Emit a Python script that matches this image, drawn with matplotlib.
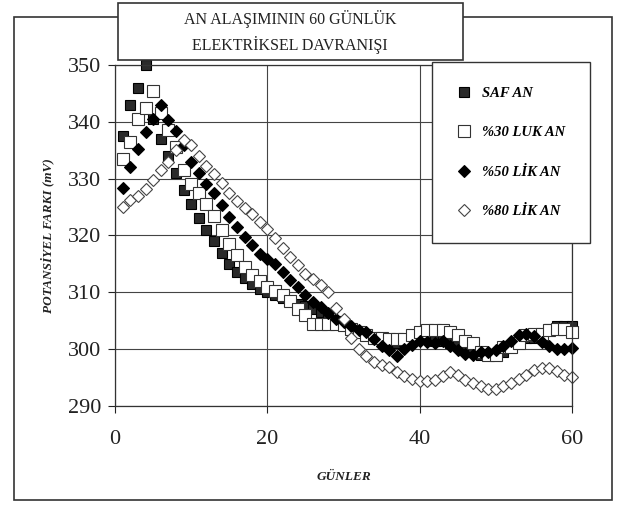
import matplotlib
matplotlib.use("Agg")
import matplotlib.pyplot as plt
from matplotlib.patches import Rectangle

plt.rcParams['font.family'] = ['Liberation Serif', 'DejaVu Serif']

# days 1..60, values (mV)
gunler = list(range(1, 61))

saf_an = [337.5, 343, 346, 350, 340.5, 337, 334, 331, 328, 325.5,
          323, 321, 319, 317, 315, 313.5, 312.5, 311.5, 310.5, 310,
          309.5, 309, 308.5, 308, 307.5, 307, 306.5, 306, 305, 304.5,
          303.5, 303, 302.5, 302, 301.5, 301, 301, 301.5, 302, 302,
          302, 301.5, 301.5, 301, 300.5, 300, 299.5, 299, 299, 299,
          299.5, 300.5, 301, 302, 302, 302.5, 303.5, 304, 304, 304]

yuzde30 = [333.5, 336.5, 340.5, 342.5, 345.5, 341.5, 338.5, 335.5, 331.5, 329,
           327.5, 325.5, 323.5, 321, 318.5, 316.5, 314.5, 313, 312, 311,
           310.3, 309.5, 308.5, 307, 306, 304.5, 304.5, 304.5, 304.5, 304.3,
           303.5, 303, 302.5, 302, 302, 301.8, 301.8, 301.8, 302.5, 303,
           303.3, 303.3, 303.3, 303, 302.5, 301.5, 301, 299.5, 299, 299,
           300.3, 300.3, 301, 302.5, 302.7, 302.7, 303.3, 303.5, 303.5, 303]

yuzde50 = [328.3, 332, 335.3, 338.2, 340.5, 343, 340.3, 338.3, 336, 333,
           331, 329.1, 327.4, 325.3, 323.3, 321.5, 319.8, 318.3, 316.8, 315.9,
           315, 313.5, 312.2, 311, 309.5, 308.3, 307.4, 306.3, 305.3, 304.7,
           304, 303.4, 303, 301.8, 300.5, 299.8, 298.8, 300, 300.8, 301.5,
           301.2, 301, 301.5, 300.5, 299.8, 299.2, 299, 299.5, 299.5, 299.8,
           300.5, 301.5, 302.5, 302.7, 302.3, 301.3, 300.5, 300, 300, 300.2]

yuzde80 = [325, 326.2, 327, 328.2, 329.7, 331.5, 333, 335, 336.8, 336,
           334, 332.3, 330.9, 329.3, 327.5, 326, 324.8, 323.8, 322.4, 321.2,
           319.5, 317.8, 316.2, 314.8, 313.3, 312.3, 311.3, 310, 307.3, 305.3,
           302, 300, 298.8, 297.8, 297.2, 296.8, 296, 295.3, 294.8, 294.3,
           294.3, 294.5, 295.3, 295.9, 295.5, 294.5, 294, 293.5, 293, 293,
           293.5, 294, 294.8, 295.5, 296.3, 296.6, 296.6, 296.2, 295.5, 295]

etiketler = ['SAF AN', '%30 LUK AN', '%50 LİK AN', '%80 LİK AN']

fig = plt.figure(figsize=(6.19, 5.08), dpi=100)
ax = fig.add_axes([0.186, 0.201, 0.738, 0.671])

ax.plot(gunler, saf_an, 's', color='#2a2a2a', mec='black', ms=7.5, mew=0.8,
        label=etiketler[0], clip_on=False)
ax.plot(gunler, yuzde30, 's', color='white', mec='#333333', ms=8.5, mew=0.8,
        label=etiketler[1], clip_on=False)
ax.plot(gunler, yuzde50, 'D', color='black', mec='black', ms=6, mew=0.8,
        label=etiketler[2], clip_on=False)
ax.plot(gunler, yuzde80, 'D', color='white', mec='#444444', ms=6.5, mew=0.8,
        label=etiketler[3], clip_on=False)

ax.set_xlim(0, 60)
ax.set_ylim(290, 350)
ax.set_xticks([0, 20, 40, 60])
ax.set_yticks(range(290, 351, 10))
ax.grid(True, color='#444444', lw=0.8)
ax.set_axisbelow(True)
ax.tick_params(labelsize=16, length=5, width=0.8, pad=5, colors='#222222')
ax.tick_params(axis='x', pad=12)
for s in ax.spines.values():
    s.set_color('#333333')
    s.set_linewidth(0.9)

ax.set_xlabel('GÜNLER', fontsize=9.5, fontweight='bold', fontstyle='italic',
              labelpad=16, color='#222222')
ax.set_ylabel('POTANSİYEL FARKI (mV)', fontsize=9.5, fontweight='bold',
              fontstyle='italic', labelpad=10, color='#222222')

# outer frame of the scanned figure
fig.patches.append(Rectangle((14/619, 1-500/508), 598/619, 483/508,
                             transform=fig.transFigure, fill=False,
                             ec='#333333', lw=1.2))

# title box
fig.patches.append(Rectangle((118/619, 1-60/508), 345/619, 57/508,
                             transform=fig.transFigure, fc='white',
                             ec='#333333', lw=1.2, zorder=3))
fig.text(290/619, 1-32/508, 'AN ALAŞIMININ 60 GÜNLÜK\nELEKTRİKSEL DAVRANIŞI',
         ha='center', va='center', fontsize=11.5, linespacing=1.5,
         color='#222222', zorder=4)

leg = ax.legend(loc='upper left', bbox_to_anchor=(432/619, 1-62/508),
                bbox_transform=fig.transFigure, borderaxespad=0,
                frameon=True, fancybox=False,
                edgecolor='#333333', framealpha=1, borderpad=1.7,
                labelspacing=1.8, handletextpad=0.7, handlelength=1.0,
                prop={'size': 10.5, 'weight': 'bold', 'style': 'italic'})
leg.get_frame().set_linewidth(1.0)

fig.savefig('out.png', dpi=100, facecolor='white')
